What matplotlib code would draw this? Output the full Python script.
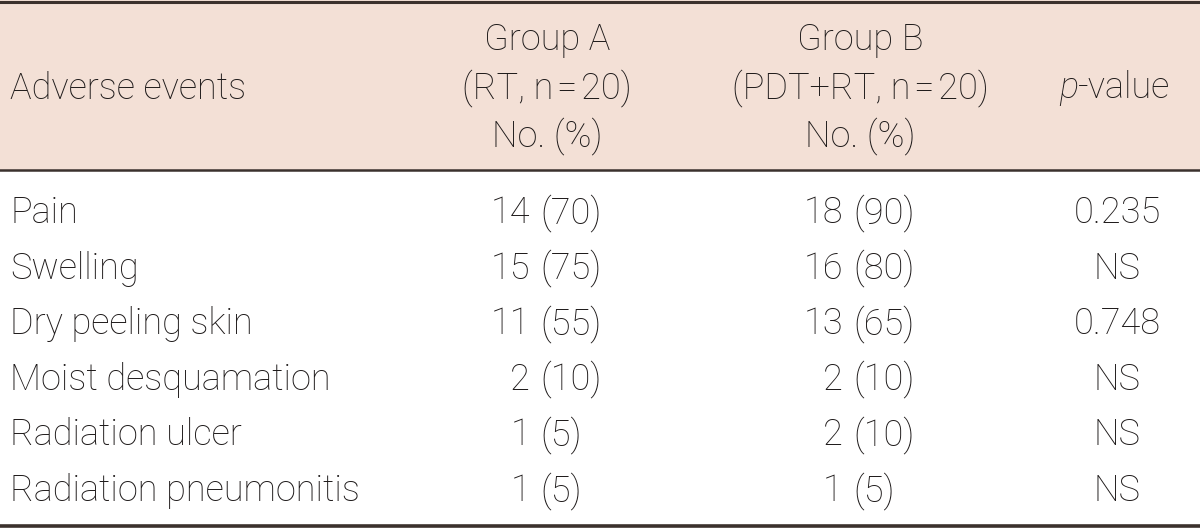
import matplotlib
matplotlib.use("Agg")
import matplotlib.pyplot as plt
from matplotlib.patches import Rectangle

# ------------------------------------------------------
# Table data
# ------------------------------------------------------
events = [
    "Pain",
    "Swelling",
    "Dry peeling skin",
    "Moist desquamation",
    "Radiation ulcer",
    "Radiation pneumonitis",
]
group_a_n = [14, 15, 11, 2, 1, 1]
group_a_pct = [70, 75, 55, 10, 5, 5]
group_b_n = [18, 16, 13, 2, 2, 1]
group_b_pct = [90, 80, 65, 10, 10, 5]
p_values = ["0.235", "NS", "0.748", "NS", "NS", "NS"]

header_a = ["Group A", "(RT, n\u200a=\u200a20)", "No. (%)"]
header_b = ["Group B", "(PDT+RT, n\u200a=\u200a20)", "No. (%)"]

# ------------------------------------------------------
# Style
# ------------------------------------------------------
FONT = ["Roboto", "DejaVu Sans"]
plt.rcParams["font.family"] = FONT
plt.rcParams["font.weight"] = "light"
TXT = "#1e1a1a"
LINE = "#3b312d"
HEAD_BG = "#f3e0d6"
FS = 26

W, H = 1200, 528
fig = plt.figure(figsize=(W / 100, H / 100), dpi=100)
ax = fig.add_axes([0, 0, 1, 1])
ax.set_xlim(0, W)
ax.set_ylim(H, 0)
ax.axis("off")

# header band and rules
ax.add_patch(Rectangle((0, 0), W, 170, facecolor=HEAD_BG, edgecolor="none"))
ax.axhline(1.5, color=LINE, lw=2.2)
ax.axhline(170, color=LINE, lw=1.8)
ax.axhline(526, color=LINE, lw=2.6)

# header text
col_a, col_b, col_p = 547, 860, 1117
head_base = [50, 98, 146]
ax.text(10, 99, "Adverse events", fontsize=FS, color=TXT, ha="left", va="baseline")
for i, (ta, tb) in enumerate(zip(header_a, header_b)):
    ax.text(col_a, head_base[i], ta, fontsize=FS, color=TXT, ha="center", va="baseline")
    ax.text(col_b, head_base[i], tb, fontsize=FS, color=TXT, ha="center", va="baseline")
ax.text(1078, 98, "p", fontsize=FS, color=TXT, ha="right", va="baseline", style="italic")
ax.text(1078, 98, "-value", fontsize=FS, color=TXT, ha="left", va="baseline")

# body rows
row0, step = 223, 55.6
for i, ev in enumerate(events):
    y = row0 + i * step
    ax.text(10, y, ev, fontsize=FS, color=TXT, ha="left", va="baseline")
    ax.text(530, y, str(group_a_n[i]), fontsize=FS, color=TXT, ha="right", va="baseline")
    ax.text(540, y, f"({group_a_pct[i]})", fontsize=FS, color=TXT, ha="left", va="baseline")
    ax.text(843, y, str(group_b_n[i]), fontsize=FS, color=TXT, ha="right", va="baseline")
    ax.text(853, y, f"({group_b_pct[i]})", fontsize=FS, color=TXT, ha="left", va="baseline")
    ax.text(col_p, y, p_values[i], fontsize=FS, color=TXT, ha="center", va="baseline")

fig.savefig("out.png", dpi=100, facecolor="white")
